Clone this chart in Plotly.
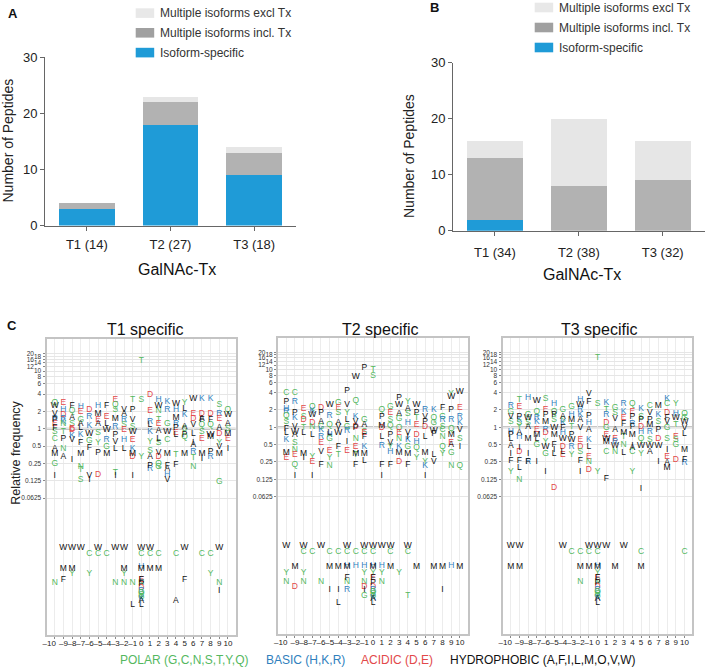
import plotly.graph_objects as go

WIDTH = 706
HEIGHT = 667
FONT = 'Liberation Sans'

# bar panels
ISOFORMS = ['Isoform-specific', 'Multiple isoforms incl. Tx', 'Multiple isoforms excl Tx']
BAR_COLORS = ['#1f9bd7', '#b2b2b2', '#e6e6e6']
LEGEND_COLORS = ['#1f9bd7', '#a0a0a0', '#e8e8e8']
A_LABELS = ['T1 (14)', 'T2 (27)', 'T3 (18)']
A_VALUES = [[3, 18, 9], [1, 4, 4], [0, 1, 1]]
B_LABELS = ['T1 (34)', 'T2 (38)', 'T3 (32)']
B_VALUES = [[2, 0, 0], [11, 8, 9], [3, 12, 7]]

# logo panels
POSITIONS = list(range(-10, 11))
FREQ_TICKS = [20, 18, 16, 14, 12, 10, 8, 6, 4, 2, 1, 0.5, 0.25, 0.125, 0.0625]
FREQ_TEXT = ['20\u00a0\u00a0\u00a0\u00a0', '18', '16\u00a0\u00a0\u00a0\u00a0', '14', '12\u00a0\u00a0\u00a0\u00a0',
             '10', '8', '6', '4', '2', '1', '0.5', '0.25', '0.125', '0.0625']

T1_LETTERS = ['QWVRPEFSCAMGI', 'EHDRKNTPNA', 'FQASEDKVI', 'HEGALKFMNTS', 'DRKWGFVI', 'HMEASYPD', 'FELWRGM',
              'EQSMRPVLTI', 'VARSEHL', 'TPVSWEKMDI', 'TSY', 'DERLKYSAPR', 'HWNTEALSVDQG', 'KRGWCMFAHV',
              'WHMRPELTF', 'YLKASQPM', 'WEDVLIARTN', 'KDAFQSEMI', 'KDFQWMPR', 'SREADYVMG', 'QWASMEI']
T1_FREQ = [[2.83, 2.54, 1.8, 1.51, 1.41, 1.2, 1.05, .89, .66, .45, .36, .25, .15],
           [2.83, 2.11, 1.73, 1.51, 1.32, 1.24, .89, .66, .45, .32],
           [2.47, 2.05, 1.57, 1.24, 1.01, .95, .75, .64, .29],
           [2.41, 1.97, 1.45, 1.24, 1.05, .78, .57, .37, .22, .19, .13],
           [2.17, 1.62, 1.11, .83, .62, .47, .15, .13],
           [2.47, 1.85, 1.41, 1.2, .85, .57, .38, .16],
           [2.47, 1.62, 1.2, .95, .64, .49, .36],
           [3.15, 2.58, 2.11, 1.51, 1.08, .78, .59, .44, .17, .15],
           [2.11, 1.8, 1.45, 1.16, .95, .64, .44],
           [3.15, 2.17, 1.45, 1.08, .89, .65, .45, .37, .32, .15],
           [15.1, 3.15, .32],
           [3.84, 2.05, 1.32, 1.16, .89, .59, .41, .32, .23, .2],
           [3.23, 2.47, 2.05, 1.45, 1.2, .92, .68, .56, .38, .33, .25, .22],
           [2.91, 2.17, 1.24, .89, .65, .36, .23, .2, .16, .13],
           [2.68, 2.11, 1.57, 1.24, 1.05, .85, .78, .35, .24],
           [2.87, 2.25, 1.73, 1.08, 1.01, .73, .78, .37],
           [3.36, 1.85, 1.51, 1.16, .83, .56, .52, .4, .31, .22],
           [3.36, 1.85, 1.51, 1.41, 1.16, .89, .68, .37, .3],
           [3.36, 1.85, 1.45, 1.16, .78, .73, .4, .33],
           [2.58, 1.85, 1.51, 1.05, .83, .57, .49, .37, .12],
           [2.11, 1.73, 1.2, 1.01, .83, .68, .45]]

T2_LETTERS = ['CPHRQSFLKME', 'CRPKVWASNQIE', 'ESDTLMI', 'QKWDNLYEI', 'DPAGKREVF', 'WRQLHGEYN', 'GESAVWFT',
              'PVYLGRIE', 'WQKVDPNEMTF', 'PGASEFKML', 'TS', 'QPMDLRFI', 'GESQPVYHF', 'PWAGQENKMD', 'YASHVIKGMF',
              'WPTEDHQY', 'RVPDLMYKI', 'KQGWFLV', 'FGRSCNQY', 'YWPRQMEAGN', 'WERKVSIQ']
T2_FREQ = [[3.9, 2.72, 2.05, 1.87, 1.57, 1.25, .94, .79, .6, .36, .3],
           [3.9, 2.79, 1.75, 1.43, 1.03, .84, .74, .53, .4, .22, .145, .33],
           [2.08, 1.53, 1.34, .96, .79, .35, .3],
           [2.29, 1.95, 1.64, 1.17, 1.03, .74, .31, .25, .145],
           [2.14, 1.75, 1.25, 1.03, .9, .69, .53, .38, .22],
           [2.44, 1.57, 1.1, .79, .74, .64, .39, .3, .21],
           [2.61, 2.14, 1.75, 1.17, 1.03, .81, .46, .33],
           [4.33, 2.44, 1.8, 1.34, 1.03, .875, .56, .39],
           [7.6, 2.91, 1.53, 1.25, 1.03, .96, .64, .46, .35, .33, .22],
           [10.6, 1.34, 1.1, .84, .79, .69, .45, .35, .26],
           [9.9, 7.9],
           [2.0, 1.53, 1.05, .96, .69, .47, .22, .145],
           [2.29, 1.75, 1.34, 1.05, .74, .53, .45, .38, .22],
           [3.19, 2.44, 1.7, 1.38, .96, .79, .64, .45, .36, .25],
           [2.79, 2.05, 1.7, 1.17, .79, .69, .6, .46, .35, .22],
           [2.44, 1.75, 1.43, 1.1, .74, .56, .43, .3],
           [2.0, 1.53, 1.25, 1.03, .69, .36, .25, .21, .145],
           [2.0, 1.43, 1.17, .875, .77, .33, .25],
           [2.14, 1.53, 1.34, 1.03, .9, .67, .45, .34],
           [3.79, 3.32, 2.0, 1.34, .92, .74, .53, .49, .36, .21],
           [4.17, 2.14, 1.53, 1.17, .9, .64, .45, .21]]

T3_LETTERS = ['RGVSHPLAIFY', 'TEPKSYAHIDFLN', 'HGWSAMIFR', 'WQRKEMLGI', 'SEPMRDYWGI', 'HQPSWMFILD', 'GASKFHWDLE',
              'GHMTPWRY', 'HWRKAVEDSFI', 'VFPHAKLEND', 'TSY', 'KTRDGEWMCF', 'GSVAERWN', 'RKEFMTNL', 'QEPRFMIACY',
              'KSPDHQWYI', 'CVPMRSWA', 'MKSPDWI', 'KCDFVGSIEAM', 'YHWTESGD', 'QGWVLMFR']
T3_FREQ = [[2.35, 1.87, 1.53, 1.25, .84, .74, .64, .47, .34, .26, .17],
           [2.98, 2.29, 1.53, 1.34, 1.17, 1.0, .79, .69, .43, .37, .26, .2, .12],
           [3.19, 1.64, 1.43, 1.17, 1.03, .64, .34, .25, .25],
           [2.87, 1.87, 1.43, 1.25, .9, .74, .64, .49, .25],
           [3.11, 2.0, 1.64, 1.25, .9, .79, .56, .46, .35, .165],
           [2.54, 1.87, 1.64, 1.34, .96, .74, .49, .4, .34, .09],
           [2.0, 1.53, 1.34, 1.17, .96, .79, .64, .46, .38, .33],
           [2.29, 1.64, 1.34, 1.03, .74, .6, .46, .33],
           [2.98, 2.44, 2.0, 1.64, 1.34, .96, .6, .46, .37, .26, .165],
           [3.79, 2.79, 1.57, 1.17, .9, .6, .46, .31, .25, .18],
           [16.2, 2.54, .17],
           [2.61, 2.0, 1.64, 1.17, .96, .74, .64, .56, .37, .127],
           [2.14, 1.75, 1.4, .9, .64, .56, .47, .37],
           [2.54, 1.82, 1.43, 1.14, .79, .69, .49, .36],
           [2.5, 1.87, 1.53, 1.14, 1.03, .74, .47, .43, .37, .17],
           [2.05, 1.53, 1.34, 1.03, .84, .64, .47, .34, .084],
           [2.35, 1.75, 1.34, 1.1, .84, .6, .47, .37],
           [2.35, 1.64, 1.25, .9, .64, .47, .25],
           [3.11, 2.54, 1.75, 1.43, 1.25, .96, .64, .41, .31, .24, .2],
           [2.5, 1.68, 1.43, 1.1, .69, .6, .49, .27],
           [1.68, 1.43, 1.25, .96, .77, .41, .27, .24]]

# residues never seen in the background sit at fixed low values below the gap
RARE_FREQ = {'W': .0086, 'C': .0068, 'H': .004, 'M': .0037, 'Y': .003, 'E': .0024, 'F': .0024, 'N': .0021,
             'P': .002, 'D': .0017, 'R': .0015, 'I': .0015, 'Q': .0014, 'S': .0013, 'T': .0012, 'G': .0012,
             'K': .0011, 'A': .00103, 'L': .00088}
T1_RARE = {'W': [-9, -8, -7, -5, -3, -2, 0, 1, 5, 9], 'C': [-6, -5, -4, 0, 1, 2, 4, 7, 8],
           'M': [-9, -8, -2, 0, 1, 2], 'Y': [-8, -6, -2, 8], 'N': [-10, -3, -2, -1, 0, 9], 'F': [-9, 0, 5],
           'A': [0, 4], 'L': [-1, 0], 'I': [9], 'H': [0], 'E': [0], 'P': [0], 'D': [0], 'R': [0], 'Q': [0],
           'S': [0], 'T': [0], 'G': [0], 'K': [0]}
T2_RARE = {'W': [-10, -8, -6, -3, -1, 0, 1, 2, 4], 'C': [-8, -7, -5, -4, -3, -2, -1, 0, 2, 4],
           'M': [-9, -5, -4, -3, 0, 2, 5, 7, 8, 10], 'H': [-3, -2, -1, 0, 1, 9], 'Y': [-10, -8, -1, 0, 1, 3],
           'N': [-10, -8, -6, -3, -1, 1], 'F': [-3, 0], 'E': [0], 'D': [-9, -1, 0], 'R': [-3, 0],
           'I': [-5, -4, -1, 8], 'L': [-4, 0], 'T': [4, 0], 'G': [-1, 0], 'P': [0], 'Q': [0], 'S': [0],
           'A': [0], 'K': [0]}
T3_RARE = {'W': [-10, -9, -4, -1, 0, 1, 3], 'C': [-3, -2, -1, 0, 5, 10], 'M': [-10, -9, -2, -1, 0, 2, 5],
           'N': [-2, 0], 'H': [0], 'E': [0], 'F': [0], 'P': [0], 'D': [0], 'R': [0], 'Q': [0], 'S': [0],
           'T': [0], 'G': [0], 'K': [0], 'A': [0], 'L': [0], 'Y': [0]}

POLAR_COLOR = '#55b85f'
BASIC_COLOR = '#2f80bd'
ACIDIC_COLOR = '#e2494a'
HYDROPHOBIC_COLOR = '#111111'
GROUPS = {'GCNSTYQ': POLAR_COLOR, 'HKR': BASIC_COLOR, 'DE': ACIDIC_COLOR, 'AFILMOVW': HYDROPHOBIC_COLOR}


def letter_color(letter):
    for letters in GROUPS:
        if letter in letters:
            return GROUPS[letters]
    return HYDROPHOBIC_COLOR


def xdom(left, right):
    return [left / WIDTH, right / WIDTH]


def ydom(top, bottom):
    return [1 - bottom / HEIGHT, 1 - top / HEIGHT]


def text(label, x, y, size=12, angle=0, anchor='center', color='#222222', bold=False):
    return dict(text='<b>%s</b>' % label if bold else label, x=x / WIDTH, y=1 - y / HEIGHT, xref='paper',
                yref='paper', xanchor=anchor, yanchor='middle', showarrow=False, textangle=angle,
                font=dict(family=FONT, size=size, color=color))


fig = go.Figure()
annotations = []
shapes = []


def bar_panel(n, labels, values, left, right, zero_y, top_y, standoff):
    for name, color, vals in zip(ISOFORMS, BAR_COLORS, values):
        fig.add_trace(go.Bar(x=labels, y=vals, name=name, marker=dict(color=color, line_width=0),
                             xaxis='x%d' % n, yaxis='y%d' % n, showlegend=False))
    fig.update_layout({
        'xaxis%d' % n: dict(domain=xdom(left, right), anchor='y%d' % n, showgrid=False, zeroline=False,
                            showline=True, linecolor='#666666', linewidth=1, ticks='outside', ticklen=4,
                            tickcolor='#666666', ticklabelstandoff=standoff, tickangle=0,
                            tickfont=dict(family=FONT, size=13, color='#222222')),
        'yaxis%d' % n: dict(domain=ydom(top_y, zero_y), anchor='x%d' % n, range=[0, 30], tickvals=[0, 10, 20, 30],
                            showgrid=False, zeroline=False, showline=True, linecolor='#666666', linewidth=1,
                            ticks='outside', ticklen=4, tickcolor='#666666',
                            tickfont=dict(family=FONT, size=13, color='#222222')),
    })


def swatch_legend(left, tops):
    # rows run top to bottom, the stack order reversed
    for i, top in enumerate(tops):
        k = 2 - i
        shapes.append(dict(type='rect', xref='paper', yref='paper', x0=left / WIDTH, x1=(left + 18.5) / WIDTH,
                           y0=1 - (top + 9.6) / HEIGHT, y1=1 - top / HEIGHT, fillcolor=LEGEND_COLORS[k],
                           line_width=0))
        annotations.append(text(ISOFORMS[k], left + 22.5, top + 5, size=12, anchor='left', color='#333333'))


def logo_panel(n, title, letters, freqs, rare, left, right, top, bottom, top_log2, bottom_log2, title_x):
    rows = []
    for pos, column, column_freq in zip(POSITIONS, letters, freqs):
        for letter, freq in zip(column, column_freq):
            rows.append((pos, freq, letter))
    for letter in rare:
        for pos in rare[letter]:
            rows.append((pos, RARE_FREQ[letter], letter))
    # black letters are drawn last, they sit on top in the pile-ups
    rows.sort(key=lambda row: letter_color(row[2]) == HYDROPHOBIC_COLOR)
    labels = [row[2] for row in rows]
    fig.add_trace(go.Scatter(x=[row[0] for row in rows], y=[row[1] for row in rows], text=labels, mode='text',
                             textposition='middle center',
                             textfont=dict(family=FONT, size=8.5, color=[letter_color(l) for l in labels]),
                             xaxis='x%d' % n, yaxis='y%d' % n, showlegend=False, cliponaxis=False,
                             hoverinfo='skip'))
    # log10 of a power of two, keeps the axis range in the same units as the readings
    lo = bottom_log2 * 0.30103
    hi = top_log2 * 0.30103
    ticktext = ['\u2013%d' % abs(p) if p < 0 else str(p) for p in POSITIONS]
    ticktext[0] += '\u00a0' * 5
    fig.update_layout({
        'xaxis%d' % n: dict(domain=xdom(left, right), anchor='y%d' % n, range=[-10.95, 10.9], tickmode='array',
                            tickvals=POSITIONS, ticktext=ticktext, tickangle=0, showgrid=True, gridcolor='#ececec',
                            gridwidth=1, zeroline=False, showline=True, mirror=True, linecolor='#c4c4c4',
                            linewidth=2, ticks='outside', ticklen=2, tickcolor='#888888', ticklabelstandoff=-3,
                            tickfont=dict(family=FONT, size=8, color='#222222')),
        'yaxis%d' % n: dict(domain=ydom(top, bottom), anchor='x%d' % n, type='log', range=[lo, hi], tickmode='array',
                            tickvals=FREQ_TICKS, ticktext=FREQ_TEXT, showgrid=True, gridcolor='#e6e6e6', gridwidth=1,
                            zeroline=False, showline=True, mirror=True, linecolor='#c4c4c4', linewidth=2,
                            ticks='outside', ticklen=2, tickcolor='#888888',
                            tickfont=dict(family=FONT, size=6.5, color='#333333')),
    })
    shapes.append(dict(type='line', xref='x%d domain' % n, yref='y%d' % n, x0=0, x1=1, y0=1, y1=1,
                       line=dict(color='#b5b5b5', width=2), layer='below'))
    annotations.append(text(title, title_x, 330, size=16, color='#111111'))


bar_panel(1, A_LABELS, A_VALUES, 45, 296, 225.5, 57.3, 3)
bar_panel(2, B_LABELS, B_VALUES, 453, 704.7, 230.7, 62.7, 6)
swatch_legend(135.7, [8.3, 28, 47.8])
swatch_legend(534.7, [2.7, 22.7, 42.7])

logo_panel(3, 'T1 specific', T1_LETTERS, T1_FREQ, T1_RARE, 46.5, 235.7, 339, 635, 5.18, -11.9, 145)
logo_panel(4, 'T2 specific', T2_LETTERS, T2_FREQ, T2_RARE, 278, 467.7, 338.3, 634.3, 5.13, -11.94, 380)
logo_panel(5, 'T3 specific', T3_LETTERS, T3_FREQ, T3_RARE, 502.5, 692.3, 338.3, 634.3, 5.13, -11.94, 599)

annotations += [
    text('A', 13, 13, size=13, color='#111111', bold=True),
    text('B', 434.7, 8, size=13, color='#111111', bold=True),
    text('C', 12, 325, size=13, color='#111111', bold=True),
    text('Number of Peptides', 7.5, 141, size=14, angle=-90),
    text('Number of Peptides', 409, 156, size=14, angle=-90),
    text('GalNAc-Tx', 176.7, 269, size=16, color='#111111'),
    text('GalNAc-Tx', 582.3, 275, size=16, color='#111111'),
    text('Relative frequency', 15.7, 453, size=12.5, angle=-90),
    text('POLAR (G,C,N,S,T,Y,Q)', 118, 660, size=12, anchor='left', color=POLAR_COLOR),
    text('BASIC (H,K,R)', 264, 660, size=12, anchor='left', color=BASIC_COLOR),
    text('ACIDIC (D,E)', 359.3, 660, size=12, anchor='left', color=ACIDIC_COLOR),
    text('HYDROPHOBIC (A,F,I,L,M,O,V,W)', 448, 660, size=12, anchor='left', color=HYDROPHOBIC_COLOR),
]

# autoexpand off: labels near the edge would otherwise push the margins in
fig.update_layout(width=WIDTH, height=HEIGHT, autosize=False, margin=dict(l=0, r=0, t=0, b=0, autoexpand=False),
                  paper_bgcolor='white', plot_bgcolor='white', barmode='stack', bargap=1 / 3,
                  showlegend=False, annotations=annotations, shapes=shapes, font=dict(family=FONT))

fig.write_html("out.html", config={'displayModeBar': False}, post_script="document.body.style.margin='0';")
